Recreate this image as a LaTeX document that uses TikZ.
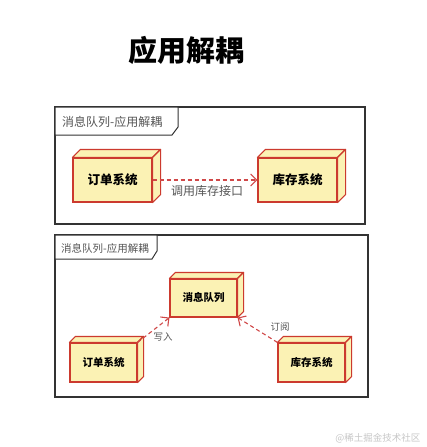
\documentclass[tikz,border=0pt]{standalone}
\usepackage{fontspec}
\newfontfamily\cjk{Noto Sans CJK SC}
\usetikzlibrary{arrows.meta,calc}
\definecolor{nodefill}{HTML}{FBF2B4}
\definecolor{nodeline}{HTML}{CC3A2E}
\definecolor{arrowred}{HTML}{D04848}
\definecolor{labelgray}{HTML}{555555}
\definecolor{framegray}{HTML}{333333}
\tikzset{
  sysbox/.style={draw=nodeline, fill=nodefill, line width=1.1pt, inner sep=0pt, font=\cjk\bfseries},
  facefill/.style={draw=nodeline, fill=nodefill, line width=1.1pt, line join=round},
  framebox/.style={draw=framegray, line width=1.2pt},
  tabline/.style={draw=framegray, line width=1pt, fill=white},
  depline/.style={draw=arrowred, line width=1.1pt, dash pattern=on 4pt off 3pt, -{Straight Barb[length=6pt,width=12pt,line width=1.1pt]}},
  edgelabel/.style={text=labelgray, font=\cjk, inner sep=1pt}
}
\newcommand{\boxfaces}[2]{%
  \path[facefill] (#1.north west) -- ++(#2,-#2) -- ($(#1.north east)+(#2,-#2)$) -- (#1.north east) -- cycle;
  \path[facefill] (#1.north east) -- ($(#1.north east)+(#2,-#2)$) -- ($(#1.south east)+(#2,-#2)$) -- (#1.south east) -- cycle;
}
\begin{document}
\begin{tikzpicture}[x=1pt,y=-1pt]
\useasboundingbox[fill=white] (0,0) rectangle (427,447);
% title
\node (title) at (186,50) {\fontsize{29}{32}\selectfont\cjk\bfseries 应用解耦};

% frame 1
\draw[framebox] (55,107) rectangle (365,224);
\path[tabline] (55,107) -- (178,107) -- (178,127) -- (172,135) -- (55,135) -- cycle;
\node[edgelabel, anchor=west] (f1label) at (61,122) {\fontsize{12}{14}\selectfont 消息队列-应用解耦};

\node[sysbox, minimum width=79pt, minimum height=44pt] (o1) at (112.5,180) {\fontsize{12.5}{14}\selectfont 订单系统};
\boxfaces{o1}{8}
\node[sysbox, minimum width=79pt, minimum height=44pt] (k1) at (297.5,180) {\fontsize{12.5}{14}\selectfont 库存系统};
\boxfaces{k1}{8}
\draw[depline] (o1.east) -- (k1.west);
\node[edgelabel] (l1) at (207,191) {\fontsize{12}{14}\selectfont 调用库存接口};

% frame 2
\draw[framebox] (55,235) rectangle (368,397);
\path[tabline] (55,235) -- (157,235) -- (157,251) -- (152,259) -- (55,259) -- cycle;
\node[edgelabel, anchor=west] (f2label) at (60,248) {\fontsize{10.5}{12}\selectfont 消息队列-应用解耦};

\node[sysbox, minimum width=67pt, minimum height=38pt] (mq) at (203.5,298) {\fontsize{10.5}{12}\selectfont 消息队列};
\boxfaces{mq}{6}
\node[sysbox, minimum width=67pt, minimum height=39pt] (o2) at (103.5,362.5) {\fontsize{10.5}{12}\selectfont 订单系统};
\boxfaces{o2}{6}
\node[sysbox, minimum width=67pt, minimum height=39pt] (k2) at (311.5,362.5) {\fontsize{10.5}{12}\selectfont 库存系统};
\boxfaces{k2}{6}

\draw[depline] (o2.north east) -- (mq.south west);
\node[edgelabel] (l2) at (163,337) {\fontsize{9.5}{11}\selectfont 写入};
\draw[depline] (k2.north west) -- (mq.south east);
\node[edgelabel] (l3) at (280,327) {\fontsize{9.5}{11}\selectfont 订阅};

% watermark
\node[text=black!22, font=\cjk, anchor=east] (wm) at (424,438) {\fontsize{9.5}{11}\selectfont @稀土掘金技术社区};
\end{tikzpicture}
\end{document}
